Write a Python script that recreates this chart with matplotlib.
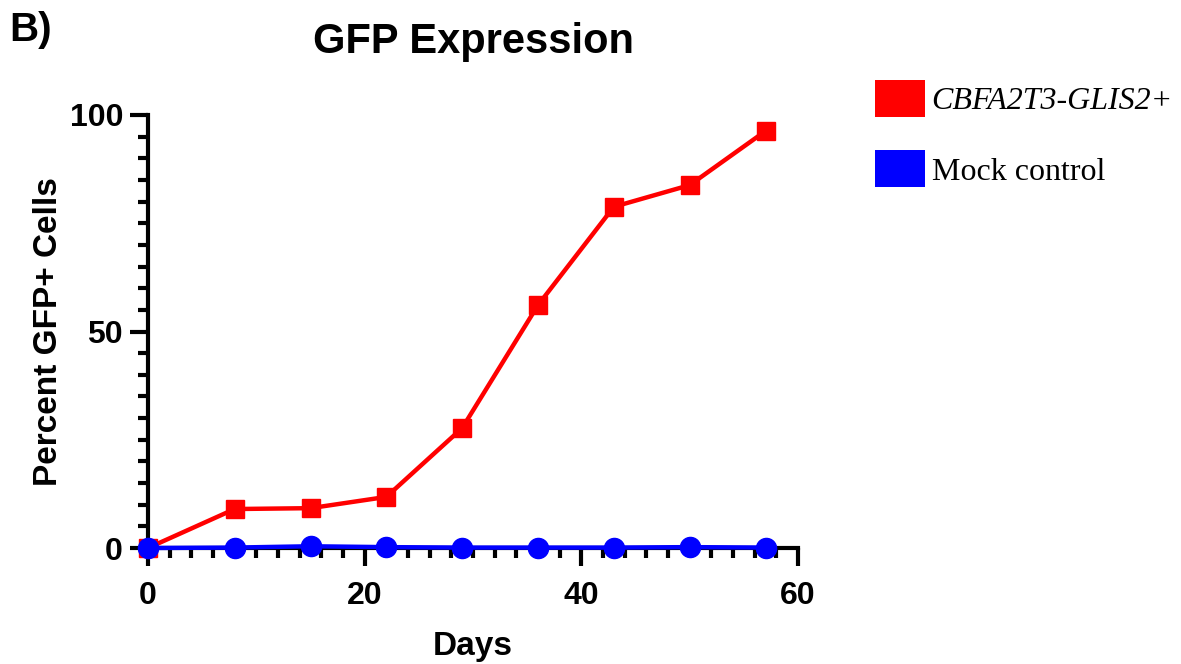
import matplotlib
matplotlib.use("Agg")
import matplotlib.pyplot as plt
from matplotlib.patches import Patch
from matplotlib.ticker import MultipleLocator

days = [0, 8, 15, 22, 29, 36, 43, 50, 57]
gfp_fusion = [0, 9.0, 9.2, 11.8, 27.7, 56.1, 78.8, 83.8, 96.3]
gfp_mock = [0, 0.1, 0.4, 0.2, 0.1, 0.1, 0.1, 0.2, 0.1]
series_labels = ["CBFA2T3-GLIS2+", "Mock control"]

plt.rcParams['font.family'] = ['Liberation Sans', 'DejaVu Sans']

fig = plt.figure(figsize=(11.81, 6.64), dpi=100)
ax = fig.add_axes([148/1181, 1-548/664, 650/1181, 433/664])

ax.plot(days, gfp_fusion, color='#ff0000', lw=3.2, marker='s', ms=13, clip_on=False, zorder=3)
ax.plot(days, gfp_mock, color='#0000ff', lw=3.2, marker='o', ms=14.5, clip_on=False, zorder=4)

ax.set_xlim(0, 60)
ax.set_ylim(0, 100)
ax.xaxis.set_major_locator(MultipleLocator(20))
ax.xaxis.set_minor_locator(MultipleLocator(2))
ax.yaxis.set_major_locator(MultipleLocator(50))
ax.yaxis.set_minor_locator(MultipleLocator(5))

for s in ['top', 'right']:
    ax.spines[s].set_visible(False)
for s in ['left', 'bottom']:
    ax.spines[s].set_linewidth(3)

ax.tick_params(which='major', length=13, width=3, labelsize=23)
ax.tick_params(axis='x', which='major', pad=11)
ax.tick_params(axis='y', which='major', pad=5)
ax.tick_params(which='minor', length=7, width=3)
for lab in ax.get_xticklabels() + ax.get_yticklabels():
    lab.set_fontweight('bold')

ax.set_xlabel('Days', fontsize=24, fontweight='bold', labelpad=14)
ax.set_ylabel('Percent GFP+ Cells', fontsize=24, fontweight='bold', labelpad=4)
ax.set_title('GFP Expression', fontsize=30, fontweight='bold', pad=45)

fig.text(9/1181, 1-11/664, 'B)', fontsize=29, fontweight='bold', va='top', ha='left')

handles = [Patch(facecolor='#ff0000', edgecolor='none'), Patch(facecolor='#0000ff', edgecolor='none')]
leg = fig.legend(handles, series_labels, loc='upper left', bbox_to_anchor=(875/1181, 1-80/664),
                 frameon=False, borderpad=0, borderaxespad=0, handlelength=1.55, handleheight=1.4,
                 handletextpad=0.22, labelspacing=1.05, prop={'family': 'Liberation Serif', 'size': 23})
leg.get_texts()[0].set_fontstyle('italic')

fig.savefig('out.png', dpi=100)
